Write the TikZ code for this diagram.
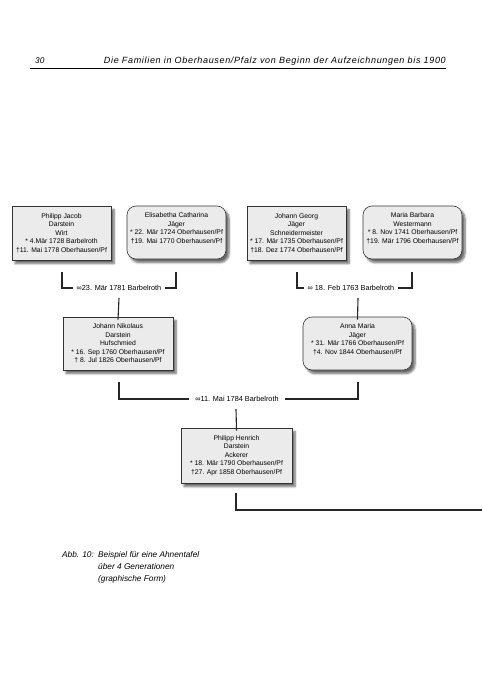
\documentclass[tikz,border=0pt]{standalone}
\usepackage{fontspec}
\setmainfont{Liberation Sans}
\newfontfamily\boxfnt{Liberation Sans}
\usetikzlibrary{shadows.blur}
\tikzset{
  person/.style={draw=black!80, line width=0.6pt, fill=black!8, align=center,
    font=\boxfnt\fontsize{6.8}{8.6}\selectfont, inner sep=0pt,
    minimum width=99pt, minimum height=54pt,
    blur shadow={shadow xshift=3pt, shadow yshift=-3.5pt, shadow blur steps=6, shadow opacity=60}},
  roundperson/.style={person, rounded corners=9pt},
  link/.style={draw=black!85, line width=1.1pt},
  wedding/.style={font=\boxfnt\fontsize{7.3}{8}\selectfont, inner sep=0pt},
  head/.style={font=\itshape\fontsize{8.3}{10}\selectfont, inner sep=0pt},
}
\begin{document}
\begin{tikzpicture}[x=1pt,y=-1pt]
\useasboundingbox (0,0) rectangle (482,690);
% header
\node[head, anchor=base west] (pg) at (35,63.5) {30};
\node[head, anchor=base east, font=\itshape\fontsize{9}{10}\selectfont] (title) at (446,63.5) {\addfontfeature{LetterSpace=7.5}Die Familien in Oberhausen/Pfalz von Beginn der Aufzeichnungen bis 1900};
\coordinate (rl) at (30,68.5);
\coordinate (rr) at (446,68.5);
\draw[line width=0.8pt] (rl) -- (rr);

% generation 1
\node[person] (pj) at (61.5,233) {Philipp Jacob\\Darstein\\Wirt\\* 4.Mär 1728 Barbelroth\\\textdagger11. Mai 1778 Oberhausen/Pf};
\node[roundperson, minimum height=53pt] (ec) at (176.5,232.5) {Elisabetha Catharina\\Jäger\\* 22. Mär 1724 Oberhausen/Pf\\\textdagger19. Mai 1770 Oberhausen/Pf\\\mbox{}};
\node[person] (jg) at (296.5,233) {Johann Georg\\Jäger\\Schneidermeister\\* 17. Mär 1735 Oberhausen/Pf\\\textdagger18. Dez 1774 Oberhausen/Pf};
\node[roundperson, minimum height=53pt] (mb) at (412.5,232.5) {Maria Barbara\\Westermann\\* 8. Nov 1741 Oberhausen/Pf\\\textdagger19. Mär 1796 Oberhausen/Pf\\\mbox{}};

% generation 2
\node[person, minimum width=110pt, minimum height=53pt] (jn) at (118,343.5) {Johann Nikolaus\\Darstein\\Hufschmied\\* 16. Sep 1760 Oberhausen/Pf\\\textdagger\ 8. Jul 1826 Oberhausen/Pf};
\node[roundperson, minimum width=109pt, minimum height=53pt] (am) at (357.5,343.5) {Anna Maria\\Jäger\\* 31. Mär 1766 Oberhausen/Pf\\\textdagger4. Nov 1844 Oberhausen/Pf\\\mbox{}};

% generation 3
\node[person, minimum width=111pt, minimum height=55pt] (ph) at (236.5,455.5) {Philipp Henrich\\Darstein\\Ackerer\\* 18. Mär 1790 Oberhausen/Pf\\\textdagger27. Apr 1858 Oberhausen/Pf};

% marriage 1
\node[wedding] (w1) at (119,288) {∞23. Mär 1781 Barbelroth};
\coordinate (w1a) at (62,272);
\coordinate (w1b) at (176,272);
\coordinate (w1c) at (119,298);
\draw[link] (w1a) |- ([xshift=-3pt]w1.west);
\draw[link] ([xshift=3pt]w1.east) -| (w1b);
\draw[link] (w1c) -- ([yshift=-3pt]jn.north);

% marriage 2
\node[wedding] (w2) at (351,288) {∞ 18. Feb 1763 Barbelroth};
\coordinate (w2a) at (297,272);
\coordinate (w2b) at (412,272);
\coordinate (w2c) at (358,298);
\draw[link] (w2a) |- ([xshift=-3pt]w2.west);
\draw[link] ([xshift=3pt]w2.east) -| (w2b);
\draw[link] (w2c) -- ([yshift=-3pt]am.north);

% marriage 3
\node[wedding] (w3) at (237,399) {∞11. Mai 1784 Barbelroth};
\coordinate (w3a) at (119,382);
\coordinate (w3b) at (358,382);
\coordinate (w3c) at (236,409);
\draw[link] (w3a) |- ([xshift=-6pt]w3.west);
\draw[link] ([xshift=6pt]w3.east) -| (w3b);
\draw[link] (w3c) -- ([yshift=-3pt]ph.north);

% descent
\coordinate (d1) at (236,493);
\coordinate (d2) at (482,510);
\draw[link] (d1) |- (d2);

% caption
\node[head, anchor=base west] (cap1) at (62,557) {Abb. 10:};
\node[head, anchor=base west] (cap2) at (98,557) {Beispiel für eine Ahnentafel};
\node[head, anchor=base west] (cap3) at (98,569) {über 4 Generationen};
\node[head, anchor=base west] (cap4) at (98,581) {(graphische Form)};
\end{tikzpicture}
\end{document}
